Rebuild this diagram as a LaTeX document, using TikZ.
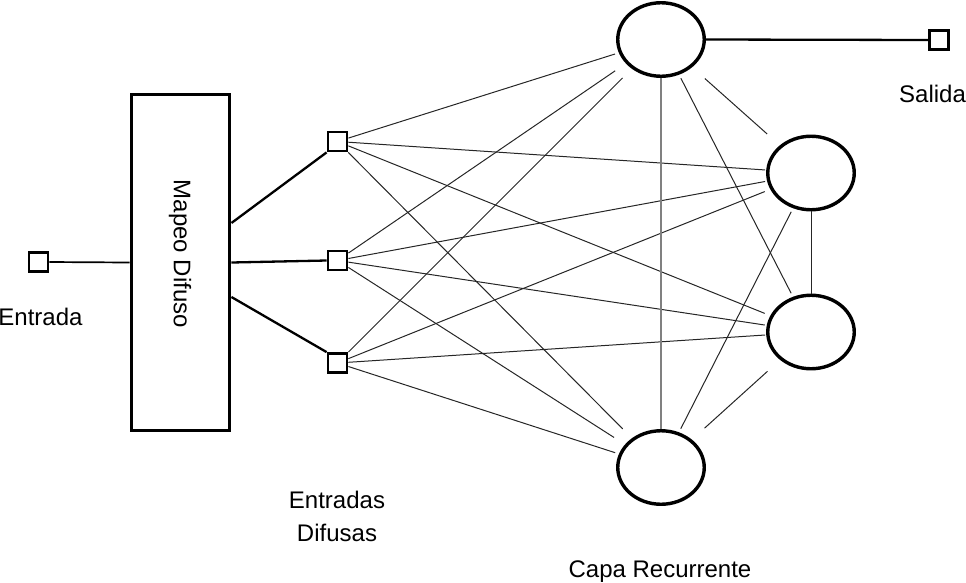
\documentclass[tikz,border=0pt]{standalone}
\usepackage{fontspec}
\setmainfont{Liberation Sans}
\usetikzlibrary{shapes.geometric}
\begin{document}
\begin{tikzpicture}[x=1pt,y=-1pt,
  sq/.style={draw, line width=2.8pt, minimum size=19pt, inner sep=0pt},
  neuron/.style={draw, ellipse, line width=3.4pt, minimum width=86.5pt, minimum height=73.5pt, inner sep=0pt},
  mapbox/.style={draw, line width=3.4pt, minimum width=98.5pt, minimum height=335.5pt, inner sep=0pt},
  lbl/.style={font=\fontsize{24}{30}\selectfont, inner sep=0pt, anchor=base},
  heavy link/.style={line width=2.3pt},
  mid link/.style={line width=1.7pt},
  thin link/.style={line width=1pt, black!85},
  gray link/.style={line width=1.8pt, black!50},
]
\useasboundingbox (0,0) rectangle (966,582);

% nodes
\node[sq] (in) at (38.5,262) {};
\node[mapbox] (map) at (180.5,262.5) {};
\node[font=\fontsize{24}{30}\selectfont, inner sep=0pt, rotate=-90] (maplbl) at (180,254) {Mapeo Difuso};
\node[sq] (s1) at (337.5,141.5) {};
\node[sq] (s2) at (337.5,260.5) {};
\node[sq] (s3) at (337.5,363) {};
\node[neuron] (top) at (661,39.5) {};
\node[neuron] (ru) at (811,173) {};
\node[neuron] (rl) at (811,332) {};
\node[neuron] (bot) at (661,467.5) {};
\node[sq] (out) at (939,40) {};

% labels
\node[lbl] (lin) at (40.5,325) {Entrada};
\node[lbl] (lout) at (932.5,102) {Salida};
\node[lbl] (ldifa) at (337,508) {Entradas};
\node[lbl] (ldifb) at (337,541) {Difusas};
\node[lbl] (lrec) at (660,577) {Capa Recurrente};

% input / output connections
\draw[mid link] (in.east) -- (map.west);
\draw[heavy link] ([yshift=39.5pt]map.east) -- (s1.south west);
\draw[heavy link] (map.east) -- (s2.west);
\draw[heavy link] ([yshift=-34.5pt]map.east) -- (s3.north west);
\draw[heavy link] (top.east) -- (out.west);

% fuzzy inputs to recurrent layer
\foreach \s/\t/\g in {s1/top/4, s2/top/13, s3/top/13,
                      s1/ru/1, s2/ru/2, s3/ru/6,
                      s1/rl/6, s2/rl/2, s3/rl/1,
                      s1/bot/13, s2/bot/13, s3/bot/4}
  \draw[thin link, shorten >=\g pt] (\s) -- (\t);

% recurrent connections
\draw[gray link] (top) -- (bot);
\draw[thin link] (ru) -- (rl);
\draw[thin link, shorten <=17pt, shorten >=17pt] (top) -- (ru);
\draw[thin link, shorten <=4pt, shorten >=4pt] (top) -- (rl);
\draw[thin link, shorten <=4pt, shorten >=4pt] (ru) -- (bot);
\draw[thin link, shorten <=17pt, shorten >=17pt] (rl) -- (bot);
\end{tikzpicture}
\end{document}
